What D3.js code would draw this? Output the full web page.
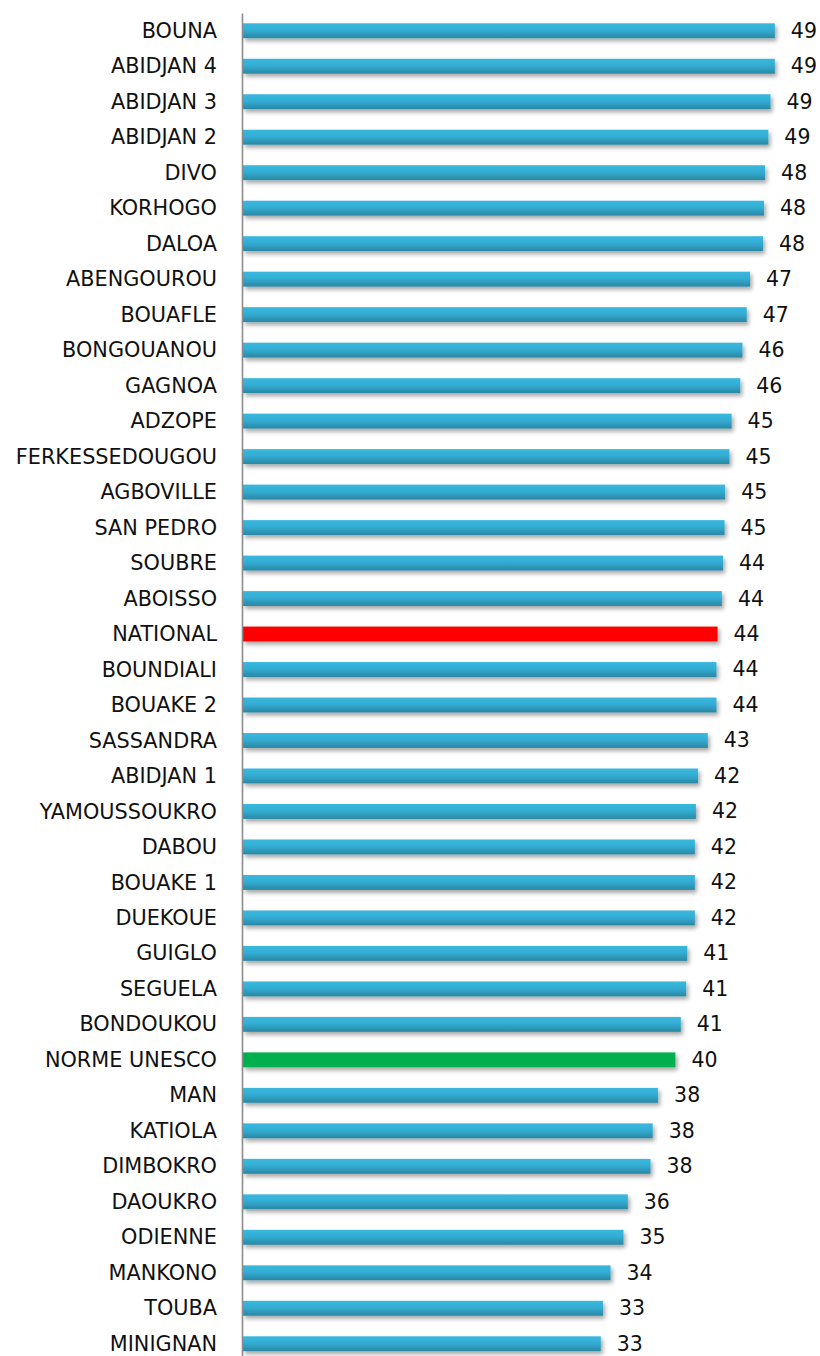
<!DOCTYPE html>
<html>
<head>
<meta charset="utf-8">
<script src="https://cdn.jsdelivr.net/npm/d3@7"></script>
<style>
  html, body { margin: 0; padding: 0; background: #fff; }
  svg { display: block; }
</style>
</head>
<body>
<svg id="chart" width="820" height="1356"></svg>
<script>
const categories = ["BOUNA","ABIDJAN 4","ABIDJAN 3","ABIDJAN 2","DIVO","KORHOGO","DALOA","ABENGOUROU","BOUAFLE","BONGOUANOU","GAGNOA","ADZOPE","FERKESSEDOUGOU","AGBOVILLE","SAN PEDRO","SOUBRE","ABOISSO","NATIONAL","BOUNDIALI","BOUAKE 2","SASSANDRA","ABIDJAN 1","YAMOUSSOUKRO","DABOU","BOUAKE 1","DUEKOUE","GUIGLO","SEGUELA","BONDOUKOU","NORME UNESCO","MAN","KATIOLA","DIMBOKRO","DAOUKRO","ODIENNE","MANKONO","TOUBA","MINIGNAN"];
const values = [49.2,49.2,48.8,48.6,48.3,48.2,48.1,46.9,46.6,46.2,46.0,45.2,45.0,44.6,44.55,44.4,44.3,43.9,43.8,43.8,43.0,42.1,41.9,41.8,41.8,41.8,41.1,41.0,40.5,40.0,38.4,37.9,37.7,35.6,35.2,34.0,33.3,33.1];
const valueLabels = ["49","49","49","49","48","48","48","47","47","46","46","45","45","45","45","44","44","44","44","44","43","42","42","42","42","42","41","41","41","40","38","38","38","36","35","34","33","33"];
const highlight = {"NATIONAL": "#FF0000", "NORME UNESCO": "#00B050"};

const data = categories.map((c, i) => ({cat: c, v: values[i], lab: valueLabels[i]}));

const svg = d3.select("#chart");
const defs = svg.append("defs");
const grad = defs.append("linearGradient").attr("id", "barGrad")
  .attr("x1", 0).attr("y1", 0).attr("x2", 0).attr("y2", 1);
grad.append("stop").attr("offset", "0%").attr("stop-color", "#3AB8DE");
grad.append("stop").attr("offset", "45%").attr("stop-color", "#33ADD3");
grad.append("stop").attr("offset", "100%").attr("stop-color", "#2A87A4");

const shadow = defs.append("filter").attr("id", "shadow")
  .attr("x", "-5%").attr("y", "-50%").attr("width", "115%").attr("height", "250%");
shadow.append("feDropShadow").attr("dx", 2).attr("dy", 3).attr("stdDeviation", 2)
  .attr("flood-color", "#000").attr("flood-opacity", 0.35);

const x0 = 243;
const x = d3.scaleLinear().domain([0, 1]).range([x0, x0 + 10.81]);
const y = d3.scaleBand().domain(categories).range([13, 1361.5]).paddingInner(0.58).paddingOuter(0.29);

const fontFamily = "'DejaVu Sans', 'Liberation Sans', sans-serif";

svg.append("g").selectAll("rect").data(data).join("rect")
  .attr("x", x(0))
  .attr("y", d => y(d.cat))
  .attr("width", d => x(d.v) - x(0))
  .attr("height", y.bandwidth())
  .attr("fill", d => highlight[d.cat] || "url(#barGrad)")
  .attr("filter", "url(#shadow)");

const yAxis = d3.axisLeft(y).tickSize(0).tickPadding(25);
const ag = svg.append("g").attr("transform", `translate(${x0 - 1},0)`).call(yAxis);
ag.select(".domain").attr("stroke", "#8c8c8c").attr("stroke-width", 1.6);
ag.selectAll("text")
  .attr("font-family", fontFamily)
  .attr("font-size", 20.8)
  .attr("dy", "0.34em")
  .attr("fill", "#111");

svg.append("g").selectAll("text").data(data).join("text")
  .attr("x", d => x(d.v) + 16)
  .attr("y", d => y(d.cat) + y.bandwidth() / 2)
  .attr("dy", "0.34em")
  .attr("font-family", fontFamily)
  .attr("font-size", 20.5)
  .attr("fill", "#111")
  .text(d => d.lab);
</script>
</body>
</html>
